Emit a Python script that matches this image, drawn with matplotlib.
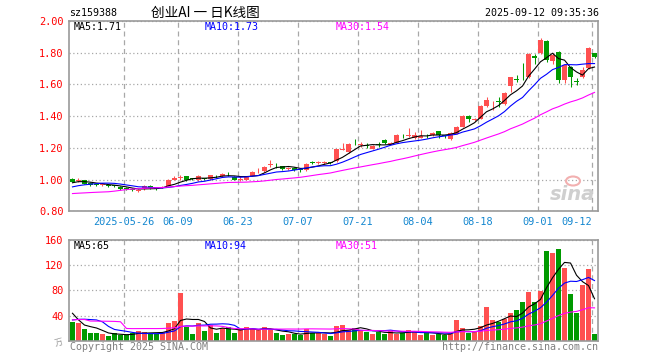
import matplotlib
matplotlib.use("Agg")
import matplotlib.pyplot as plt
from matplotlib.patches import Ellipse
import numpy as np
import pandas as pd

# trading days shown (2025-05-13 .. 2025-09-12, 06-02 holiday)
dates = [d.strftime("%Y-%m-%d") for d in pd.bdate_range("2025-05-13", "2025-09-12")
         if d.strftime("%Y-%m-%d") != "2025-06-02"]

opens = [1.006, 0.990, 0.996, 0.978, 0.972, 0.964, 0.968, 0.964, 0.955, 0.948,
         0.942, 0.930, 0.940, 0.962, 0.946, 0.948, 0.962, 1.000, 1.010, 1.020,
         1.006, 0.998, 1.008, 1.004, 1.024, 1.020, 1.036, 1.017, 1.000, 1.000,
         1.023, 1.052, 1.054, 1.095, 1.100, 1.085, 1.068, 1.075, 1.066, 1.062,
         1.108, 1.104, 1.105, 1.106, 1.117, 1.188, 1.175, 1.232, 1.220, 1.216,
         1.196, 1.222, 1.252, 1.226, 1.232, 1.270, 1.276, 1.265, 1.263, 1.282,
         1.280, 1.304, 1.280, 1.258, 1.290, 1.331, 1.404, 1.373, 1.383, 1.467,
         1.487, 1.497, 1.477, 1.590, 1.632, 1.650, 1.645, 1.780, 1.800, 1.875,
         1.746, 1.802, 1.625, 1.708, 1.620, 1.646, 1.704, 1.800]
highs = [1.010, 1.008, 0.998, 0.982, 0.976, 0.975, 0.970, 0.968, 0.958, 0.952,
         0.945, 0.938, 0.965, 0.966, 0.950, 0.960, 1.002, 1.020, 1.030, 1.022,
         1.010, 1.026, 1.012, 1.028, 1.030, 1.040, 1.048, 1.022, 1.024, 1.024,
         1.052, 1.070, 1.085, 1.125, 1.102, 1.088, 1.080, 1.080, 1.075, 1.104,
         1.118, 1.115, 1.116, 1.112, 1.192, 1.230, 1.232, 1.255, 1.235, 1.232,
         1.218, 1.235, 1.255, 1.236, 1.287, 1.285, 1.325, 1.300, 1.310, 1.290,
         1.298, 1.308, 1.284, 1.300, 1.335, 1.408, 1.406, 1.386, 1.470, 1.520,
         1.494, 1.520, 1.550, 1.650, 1.660, 1.735, 1.800, 1.790, 1.890, 1.880,
         1.800, 1.810, 1.730, 1.715, 1.640, 1.710, 1.835, 1.800]
lows = [0.982, 0.985, 0.970, 0.958, 0.960, 0.960, 0.952, 0.955, 0.936, 0.932,
        0.925, 0.922, 0.936, 0.940, 0.936, 0.944, 0.960, 0.996, 1.000, 0.990,
        0.998, 0.992, 0.998, 1.000, 1.012, 1.016, 1.020, 0.996, 0.990, 0.998,
        1.020, 1.040, 1.050, 1.080, 1.075, 1.060, 1.062, 1.052, 1.050, 1.056,
        1.096, 1.097, 1.098, 1.098, 1.112, 1.185, 1.170, 1.215, 1.205, 1.200,
        1.190, 1.205, 1.225, 1.224, 1.228, 1.260, 1.266, 1.258, 1.260, 1.265,
        1.275, 1.265, 1.265, 1.250, 1.288, 1.330, 1.365, 1.370, 1.380, 1.460,
        1.436, 1.456, 1.470, 1.550, 1.615, 1.630, 1.640, 1.730, 1.795, 1.740,
        1.730, 1.610, 1.610, 1.583, 1.595, 1.640, 1.700, 1.765]
closes = [0.986, 0.995, 0.975, 0.968, 0.966, 0.970, 0.962, 0.960, 0.940, 0.938,
          0.932, 0.934, 0.962, 0.945, 0.942, 0.956, 1.000, 1.008, 1.014, 1.000,
          1.003, 1.022, 1.004, 1.026, 1.020, 1.038, 1.034, 0.998, 1.005, 1.020,
          1.050, 1.056, 1.081, 1.100, 1.096, 1.064, 1.072, 1.058, 1.062, 1.100,
          1.104, 1.108, 1.108, 1.104, 1.190, 1.192, 1.227, 1.228, 1.222, 1.212,
          1.214, 1.218, 1.228, 1.232, 1.283, 1.266, 1.282, 1.278, 1.272, 1.278,
          1.295, 1.283, 1.276, 1.295, 1.331, 1.404, 1.380, 1.383, 1.467, 1.504,
          1.492, 1.488, 1.545, 1.645, 1.628, 1.645, 1.795, 1.768, 1.879, 1.754,
          1.788, 1.625, 1.720, 1.646, 1.615, 1.688, 1.830, 1.770]
volumes = [30, 27.7, 18.7, 12.3, 12.3, 10.7, 7.5, 11.7, 9, 9,
           12.8, 15.5, 13.9, 10.7, 10.7, 14.4, 27.7, 31.5, 76.3, 22.4,
           10.7, 27.7, 15.5, 25, 12.3, 19.7, 22.4, 12.3, 18.1, 21.9,
           18.1, 16.5, 21.9, 16.5, 12.3, 9, 11.2, 10.1, 9.6, 18.1,
           12.3, 12.3, 11.2, 7.5, 23.5, 25, 17.1, 20.3, 17.1, 14.4,
           10.7, 13.3, 11.2, 14.9, 11.2, 12.3, 17.1, 15.5, 9, 12.3,
           9, 11.2, 9.6, 11.2, 33, 20.3, 12.3, 14.4, 23.5, 53.8,
           33, 29.9, 34.7, 44.8, 49, 60.8, 77.8, 60.8, 79.5, 141.8,
           140, 145, 115.7, 74.6, 44.8, 89, 114, 10.7]

# history before the visible window (only used for the moving averages)
prior_closes = [0.925, 0.918, 0.905, 0.912, 0.920, 0.915, 0.842, 0.790, 0.798, 0.835,
                0.862, 0.878, 0.890, 0.902, 0.908, 0.915, 0.912, 0.920, 0.925, 0.944,
                0.918, 0.922, 0.930, 0.928, 0.942, 0.960, 0.975, 0.985, 0.994]
prior_volumes = [14, 15, 87, 16, 13, 12, 18, 25, 330, 20,
                 14, 12, 11, 12, 10, 13, 12, 11, 10, 9,
                 18, 17, 18, 18, 41, 80, 60, 25, 23]

tick_dates = ["2025-05-26", "2025-06-09", "2025-06-23", "2025-07-07", "2025-07-21",
              "2025-08-04", "2025-08-18", "2025-09-01", "2025-09-12"]
tick_labels = ["2025-05-26", "06-09", "06-23", "07-07", "07-21", "08-04", "08-18", "09-01", "09-12"]

RED = "#ff5050"
GREEN = "#009a00"
GRID = "#a8a8a8"
MONO = "DejaVu Sans Mono"
CJK = ["Noto Sans CJK SC", "DejaVu Sans"]

o = np.array(opens); h = np.array(highs); l = np.array(lows); c = np.array(closes)
v = np.array(volumes)
n = len(c)
x = np.arange(n)
up = c >= o
cols = np.where(up, RED, GREEN)

allc = pd.Series(prior_closes + closes)
allv = pd.Series(prior_volumes + volumes)
ma = {k: allc.rolling(k).mean().values[-n:] for k in (5, 10, 30)}
vma = {k: allv.rolling(k).mean().values[-n:] for k in (5, 10, 30)}

fig = plt.figure(figsize=(6.6, 3.6), dpi=100)
ax = fig.add_axes([69 / 660, 1 - 211.3 / 360, 529 / 660, 190.3 / 360])
axv = fig.add_axes([69 / 660, 1 - 340.7 / 360, 529 / 660, 100.7 / 360])

tpos = [dates.index(d) - 0.42 for d in tick_dates]

for a in (ax, axv):
    a.set_xlim(-0.58, n - 0.42)
    for s in a.spines.values():
        s.set_color("#999999")
        s.set_linewidth(1.2)
    a.set_xticks(tpos)
    a.tick_params(length=0, labelsize=7.4, pad=4)
    a.grid(axis="x", color=GRID, linestyle=(0, (4, 3)), linewidth=0.9)
    a.grid(axis="y", color=GRID, linestyle=(0, (1, 2)), linewidth=0.9)
    a.set_axisbelow(True)

# price panel
ax.set_ylim(0.80, 2.00)
yt = np.arange(0.8, 2.01, 0.2)
ax.set_yticks(yt)
ax.set_yticklabels(["%.2f" % t for t in yt], color="#ff0000", family=MONO)
ax.set_xticklabels(tick_labels, color="#1487d0", family=MONO)
ax.get_xticklabels()[-1].set_horizontalalignment("right")
ax.tick_params(axis="x", pad=4)
ax.vlines(x, l, h, colors=cols, linewidth=0.75)
ax.bar(x, np.maximum(np.abs(c - o), 0.004), bottom=np.minimum(o, c), width=0.8,
       color=cols, linewidth=0)
ax.plot(x, ma[5], color="black", linewidth=0.8)
ax.plot(x, ma[10], color="#0000ff", linewidth=0.8)
ax.plot(x, ma[30], color="#ff00ff", linewidth=0.8)

# volume panel
axv.set_ylim(0, 160)
axv.set_yticks([40, 80, 120, 160])
axv.set_yticklabels(["40", "80", "120", "160"], color="#ff0000", family=MONO)
axv.set_xticklabels([])
axv.bar(x, v, width=0.8, color=cols, linewidth=0)
axv.plot(x, vma[5], color="black", linewidth=0.8)
axv.plot(x, vma[10], color="#0000ff", linewidth=0.8)
axv.plot(x, vma[30], color="#ff00ff", linewidth=0.8)

# header
fig.text(69 / 660, 1 - 13 / 360, "sz159388", family=MONO, fontsize=7.2, va="center")
fig.text(151 / 660, 1 - 13 / 360, "创业AI 一 日K线图", family=CJK, fontsize=9.8, va="center")
fig.text(599 / 660, 1 - 13 / 360, "2025-09-12 09:35:36", family=MONO, fontsize=7.2,
         va="center", ha="right")

# moving average legends
for xp, txt, col in [(74, "MA5:1.71", "black"), (205, "MA10:1.73", "#0000ff"),
                     (336, "MA30:1.54", "#ff00ff")]:
    fig.text(xp / 660, 1 - 27 / 360, txt, family=MONO, fontsize=7.2, color=col, va="center")
for xp, txt, col in [(74, "MA5:65", "black"), (205, "MA10:94", "#0000ff"),
                     (336, "MA30:51", "#ff00ff")]:
    fig.text(xp / 660, 1 - 246 / 360, txt, family=MONO, fontsize=7.2, color=col, va="center")

fig.text(64 / 660, 1 - 342 / 360, "万", family=CJK, fontsize=6, color="#999999",
         va="center", ha="right", rotation=15)
fig.text(70 / 660, 1 - 347 / 360, "Copyright 2025 SINA.COM", family=MONO, fontsize=7.2,
         color="#808080", va="center")
fig.text(598 / 660, 1 - 347 / 360, "http://finance.sina.com.cn", family=MONO, fontsize=7.2,
         color="#808080", va="center", ha="right")

# faded sina watermark
fig.text(572 / 660, 1 - 195 / 360, "sina", fontsize=14, color="#cfcfcf", style="italic",
         weight="bold", ha="center", va="center")
fig.add_artist(Ellipse((573 / 660, 1 - 181 / 360), 14 / 660, 9 / 360,
                       facecolor="none", edgecolor="#f2b0b0", linewidth=1.5,
                       transform=fig.transFigure))

fig.savefig("out.png", dpi=100)
